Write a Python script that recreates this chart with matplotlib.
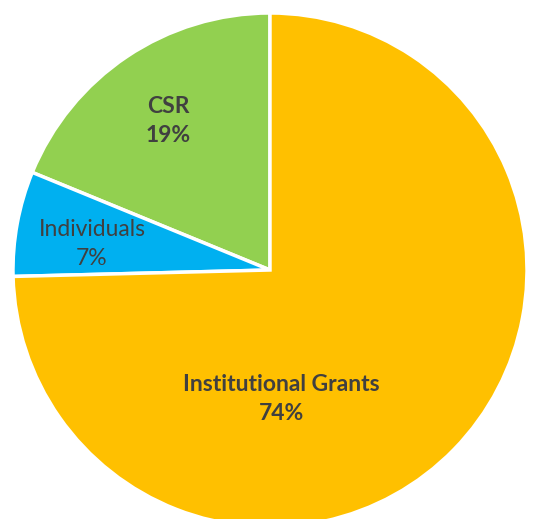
import numpy as np
import matplotlib
matplotlib.use("Agg")
import matplotlib.pyplot as plt

plt.rcParams['font.family'] = ['Lato', 'DejaVu Sans']

# data
labels = ['CSR', 'Individuals', 'Institutional Grants']
values = [18.8, 6.6, 74.6]          # slice sizes as drawn
pct_text = ['19%', '7%', '74%']     # percentages as printed on the chart
colors = ['#92D050', '#00B0F0', '#FFC000']
bold = [True, False, True]

W, H = 533, 519
cx, cy, R = 270, 270, 257

fig = plt.figure(figsize=(W / 100, H / 100), dpi=100)
ax = fig.add_axes([0, 0, 1, 1])

wedges, _ = ax.pie(values, colors=colors, startangle=90, counterclock=True,
                   radius=1.0, wedgeprops=dict(edgecolor='white', linewidth=2.5))

ax.set_xlim(-cx / R, (W - cx) / R)
ax.set_ylim(-(H - cy) / R, cy / R)
ax.set_aspect('auto')
ax.axis('off')

# label positions (pixel coords in the original picture)
label_px = [(168, 121), (92, 244), (281, 399)]
for lab, p, (px, py), b in zip(labels, pct_text, label_px, bold):
    x = (px - cx) / R
    y = (cy - py) / R
    ax.text(x, y, f"{lab}\n{p}", ha='center', va='center', fontsize=16.5,
            color='#404040', fontweight='bold' if b else 'normal',
            linespacing=1.5)

fig.savefig('out.png', dpi=100)
